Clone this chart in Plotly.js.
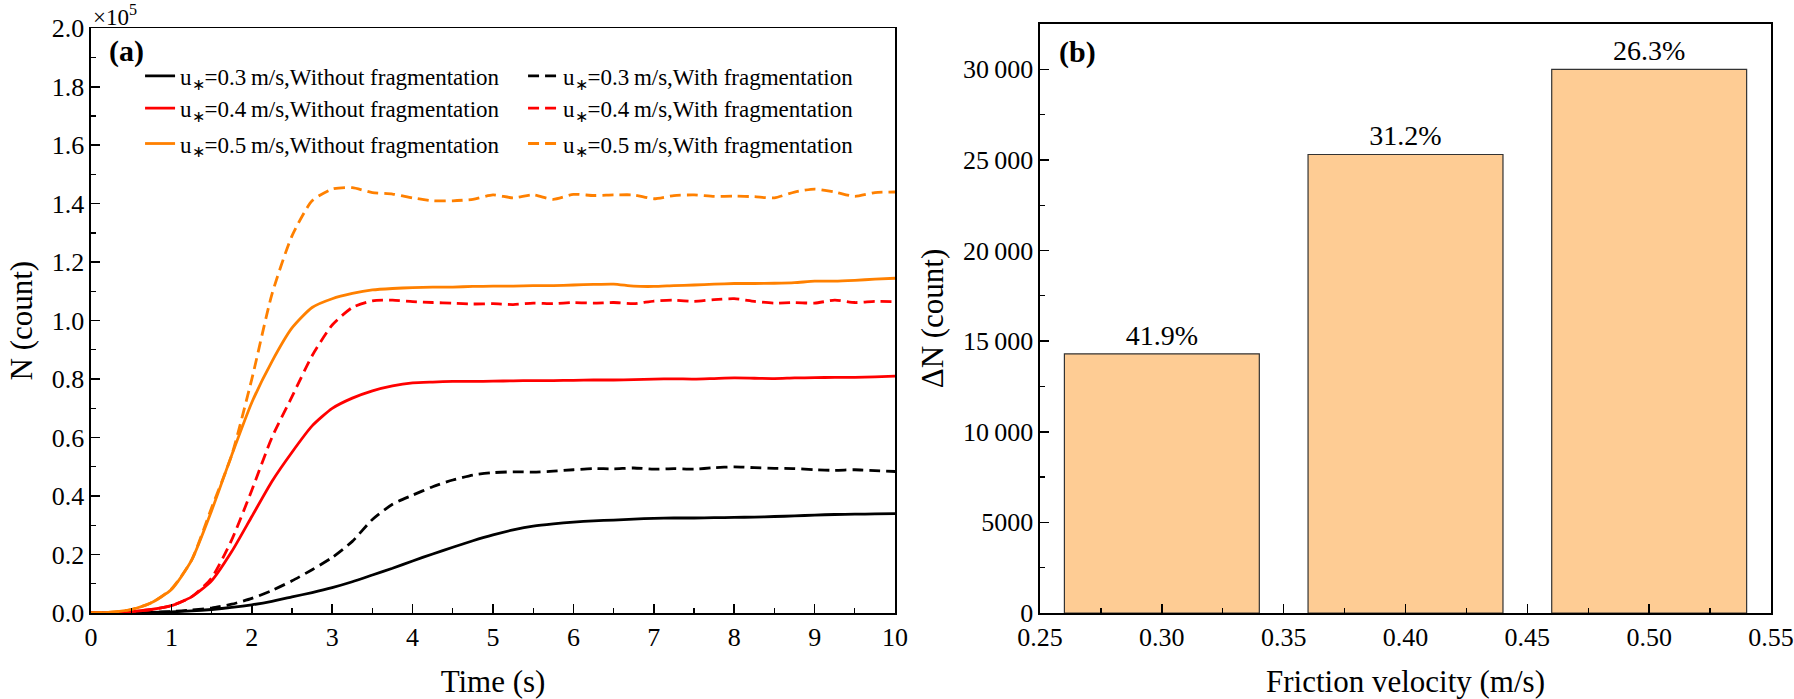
<!DOCTYPE html>
<html>
<head>
<meta charset="utf-8">
<script src="https://cdn.plot.ly/plotly-3.0.1.min.js"></script>
<style>
  html, body { margin: 0; padding: 0; background: #fff; }
  #chart { width: 1794px; height: 699px; }
</style>
</head>
<body>
<div id="chart"></div>
<script>
// panel (a): particle number N (x10^5) vs time
const time = [0, 0.25, 0.5, 0.75, 1, 1.25, 1.5, 1.75, 2, 2.25, 2.5, 2.75, 3, 3.25, 3.5, 3.75,
  4, 4.25, 4.5, 4.75, 5, 5.25, 5.5, 5.75, 6, 6.25, 6.5, 6.75, 7, 7.25, 7.5, 7.75,
  8, 8.25, 8.5, 8.75, 9, 9.25, 9.5, 9.75, 10];

const n03Without = [0, 0, 0.001, 0.002, 0.004, 0.007, 0.012, 0.019, 0.028, 0.04, 0.055, 0.07,
  0.087, 0.107, 0.13, 0.153, 0.178, 0.202, 0.225, 0.247, 0.267, 0.284, 0.297, 0.305,
  0.311, 0.315, 0.318, 0.321, 0.324, 0.325, 0.325, 0.326, 0.327, 0.328, 0.33, 0.332,
  0.335, 0.337, 0.338, 0.339, 0.34];
const n03With = [0, 0, 0.001, 0.002, 0.005, 0.01, 0.017, 0.03, 0.05, 0.077, 0.11, 0.148,
  0.19, 0.245, 0.32, 0.372, 0.403, 0.432, 0.455, 0.472, 0.48, 0.483, 0.482, 0.485,
  0.49, 0.494, 0.493, 0.496, 0.492, 0.494, 0.492, 0.497, 0.5, 0.497, 0.495, 0.494,
  0.49, 0.488, 0.49, 0.487, 0.484];
const n04Without = [0, 0.001, 0.005, 0.012, 0.025, 0.055, 0.11, 0.21, 0.33, 0.45, 0.55, 0.64,
  0.7, 0.735, 0.76, 0.777, 0.787, 0.79, 0.792, 0.792, 0.793, 0.794, 0.795, 0.795,
  0.796, 0.797, 0.797, 0.798, 0.8, 0.801, 0.8, 0.802, 0.804, 0.803, 0.802, 0.804,
  0.805, 0.806, 0.806, 0.808, 0.81];
const n04With = [0, 0.001, 0.005, 0.012, 0.025, 0.055, 0.12, 0.25, 0.42, 0.6, 0.74, 0.88,
  0.985, 1.045, 1.068, 1.07, 1.065, 1.062, 1.06, 1.057, 1.058, 1.055, 1.06, 1.058,
  1.062, 1.06, 1.062, 1.058, 1.067, 1.07, 1.066, 1.072, 1.075, 1.066, 1.06, 1.062,
  1.06, 1.07, 1.062, 1.066, 1.065];
const n05Without = [0, 0.003, 0.012, 0.035, 0.08, 0.18, 0.35, 0.54, 0.72, 0.86, 0.975, 1.045,
  1.075, 1.093, 1.105, 1.11, 1.113, 1.115, 1.115, 1.117, 1.118, 1.118, 1.12, 1.12,
  1.122, 1.124, 1.125, 1.118, 1.117, 1.12, 1.122, 1.125, 1.127, 1.127, 1.128, 1.13,
  1.135, 1.135, 1.138, 1.142, 1.145];
const n05With = [0, 0.003, 0.012, 0.035, 0.082, 0.18, 0.36, 0.54, 0.8, 1.09, 1.29, 1.41,
  1.45, 1.455, 1.438, 1.433, 1.42, 1.41, 1.41, 1.415, 1.43, 1.42, 1.43, 1.415,
  1.432, 1.428, 1.43, 1.43, 1.417, 1.428, 1.43, 1.425, 1.426, 1.424, 1.42, 1.44,
  1.45, 1.44, 1.425, 1.438, 1.44];

const seriesNames = [
  "u<sub>\u2217</sub>=0.3\u2009m/s,Without fragmentation",
  "u<sub>\u2217</sub>=0.3\u2009m/s,With fragmentation",
  "u<sub>\u2217</sub>=0.4\u2009m/s,Without fragmentation",
  "u<sub>\u2217</sub>=0.4\u2009m/s,With fragmentation",
  "u<sub>\u2217</sub>=0.5\u2009m/s,Without fragmentation",
  "u<sub>\u2217</sub>=0.5\u2009m/s,With fragmentation",
];
const seriesValues = [n03Without, n03With, n04Without, n04With, n05Without, n05With];
const seriesColors = ["#000000", "#000000", "#ff0000", "#ff0000", "#ff8000", "#ff8000"];

const nTicks = [0, 0.2, 0.4, 0.6, 0.8, 1.0, 1.2, 1.4, 1.6, 1.8, 2.0];
const nTickText = ["0.0", "0.2", "0.4", "0.6", "0.8", "1.0", "1.2", "1.4", "1.6", "1.8", "2.0"];

// panel (b): increase of N due to fragmentation
const frictionVelocity = [0.3, 0.4, 0.5];
const deltaN = [14300, 25300, 30000];
const deltaLabels = ["41.9%", "31.2%", "26.3%"];

const dTicks = [0, 5000, 10000, 15000, 20000, 25000, 30000];
const dTickText = ["0", "5000", "10\u2009000", "15\u2009000", "20\u2009000", "25\u2009000", "30\u2009000"];

const FONT = "Liberation Serif";

const traces = seriesValues.map((vals, i) => ({
  type: "scatter",
  mode: "lines",
  x: time,
  y: vals,
  name: seriesNames[i],
  legend: ["legend", "legend2", "legend3"][Math.floor(i / 2)],
  line: {
    color: seriesColors[i],
    width: 2.8,
    shape: "spline",
    smoothing: 0.6,
    dash: i % 2 === 1 ? "11px,6px" : "solid",
  },
  xaxis: "x",
  yaxis: "y",
}));

traces.push({
  type: "bar",
  x: frictionVelocity,
  y: deltaN,
  width: 0.08,
  text: deltaLabels,
  textposition: "outside",
  cliponaxis: false,
  textfont: { family: FONT, size: 28, color: "#000" },
  marker: { color: "#fecc94", line: { color: "#333", width: 1.2 } },
  showlegend: false,
  xaxis: "x2",
  yaxis: "y2",
});

const axisBase = {
  showline: true,
  mirror: true,
  linecolor: "#000",
  linewidth: 1.6,
  ticks: "inside",
  ticklen: 9,
  tickwidth: 1.5,
  tickcolor: "#000",
  showgrid: false,
  zeroline: false,
  tickfont: { family: FONT, size: 26, color: "#000" },
};

const minorBase = { ticks: "inside", ticklen: 5, tickcolor: "#000", tickwidth: 1.2 };

const legendBase = {
  orientation: "h",
  x: 0.0292,
  xanchor: "left",
  yanchor: "middle",
  entrywidth: 338,
  entrywidthmode: "pixels",
  bgcolor: "rgba(0,0,0,0)",
  font: { family: FONT, size: 23, color: "#000" },
  itemclick: false,
};

const layout = {
  width: 1794,
  height: 699,
  margin: { l: 91, r: 23, t: 24, b: 86 },
  paper_bgcolor: "#fff",
  plot_bgcolor: "#fff",
  font: { family: FONT, color: "#000" },
  bargap: 0,
  xaxis: Object.assign({}, axisBase, {
    domain: [0, 0.4786],
    range: [0, 10],
    dtick: 1,
    tick0: 0,
    minor: Object.assign({ dtick: 0.5 }, minorBase),
    title: { text: "Time (s)", font: { family: FONT, size: 31 }, standoff: 22 },
    anchor: "y",
  }),
  yaxis: Object.assign({}, axisBase, {
    domain: [0, 0.9927],
    range: [0, 2.0],
    tickmode: "array",
    tickvals: nTicks,
    ticktext: nTickText,
    minor: Object.assign({ dtick: 0.1 }, minorBase),
    title: { text: "N (count)", font: { family: FONT, size: 31 }, standoff: 10 },
    anchor: "x",
  }),
  xaxis2: Object.assign({}, axisBase, {
    domain: [0.5649, 1],
    range: [0.25, 0.55],
    dtick: 0.05,
    tick0: 0.25,
    tickformat: ".2f",
    minor: Object.assign({ dtick: 0.025 }, minorBase),
    title: { text: "Friction velocity (m/s)", font: { family: FONT, size: 31 }, standoff: 22 },
    anchor: "y2",
  }),
  yaxis2: Object.assign({}, axisBase, {
    domain: [0, 1],
    range: [0, 32500],
    tickmode: "array",
    tickvals: dTicks,
    ticktext: dTickText,
    minor: Object.assign({ dtick: 2500 }, minorBase),
    title: { text: "\u0394N (count)", font: { family: FONT, size: 31 }, standoff: 10 },
    anchor: "x2",
  }),
  legend: Object.assign({}, legendBase, { y: 0.912 }),
  legend2: Object.assign({}, legendBase, { y: 0.857 }),
  legend3: Object.assign({}, legendBase, { y: 0.797 }),
  annotations: [
    {
      text: "\u00d710<sup>5</sup>",
      xref: "paper", yref: "paper",
      x: 0.0, y: 1.014, xanchor: "left", yanchor: "middle",
      showarrow: false,
      font: { family: FONT, size: 23, color: "#000" },
    },
    {
      text: "<b>(a)</b>",
      xref: "x domain", yref: "y domain",
      x: 0.02, y: 0.961, xanchor: "left", yanchor: "middle",
      showarrow: false,
      font: { family: FONT, size: 30, color: "#000" },
    },
    {
      text: "<b>(b)</b>",
      xref: "x2 domain", yref: "y2 domain",
      x: 0.023, y: 0.9525, xanchor: "left", yanchor: "middle",
      showarrow: false,
      font: { family: FONT, size: 30, color: "#000" },
    },
  ],
};

Plotly.newPlot("chart", traces, layout, { displayModeBar: false, staticPlot: true });
</script>
</body>
</html>
